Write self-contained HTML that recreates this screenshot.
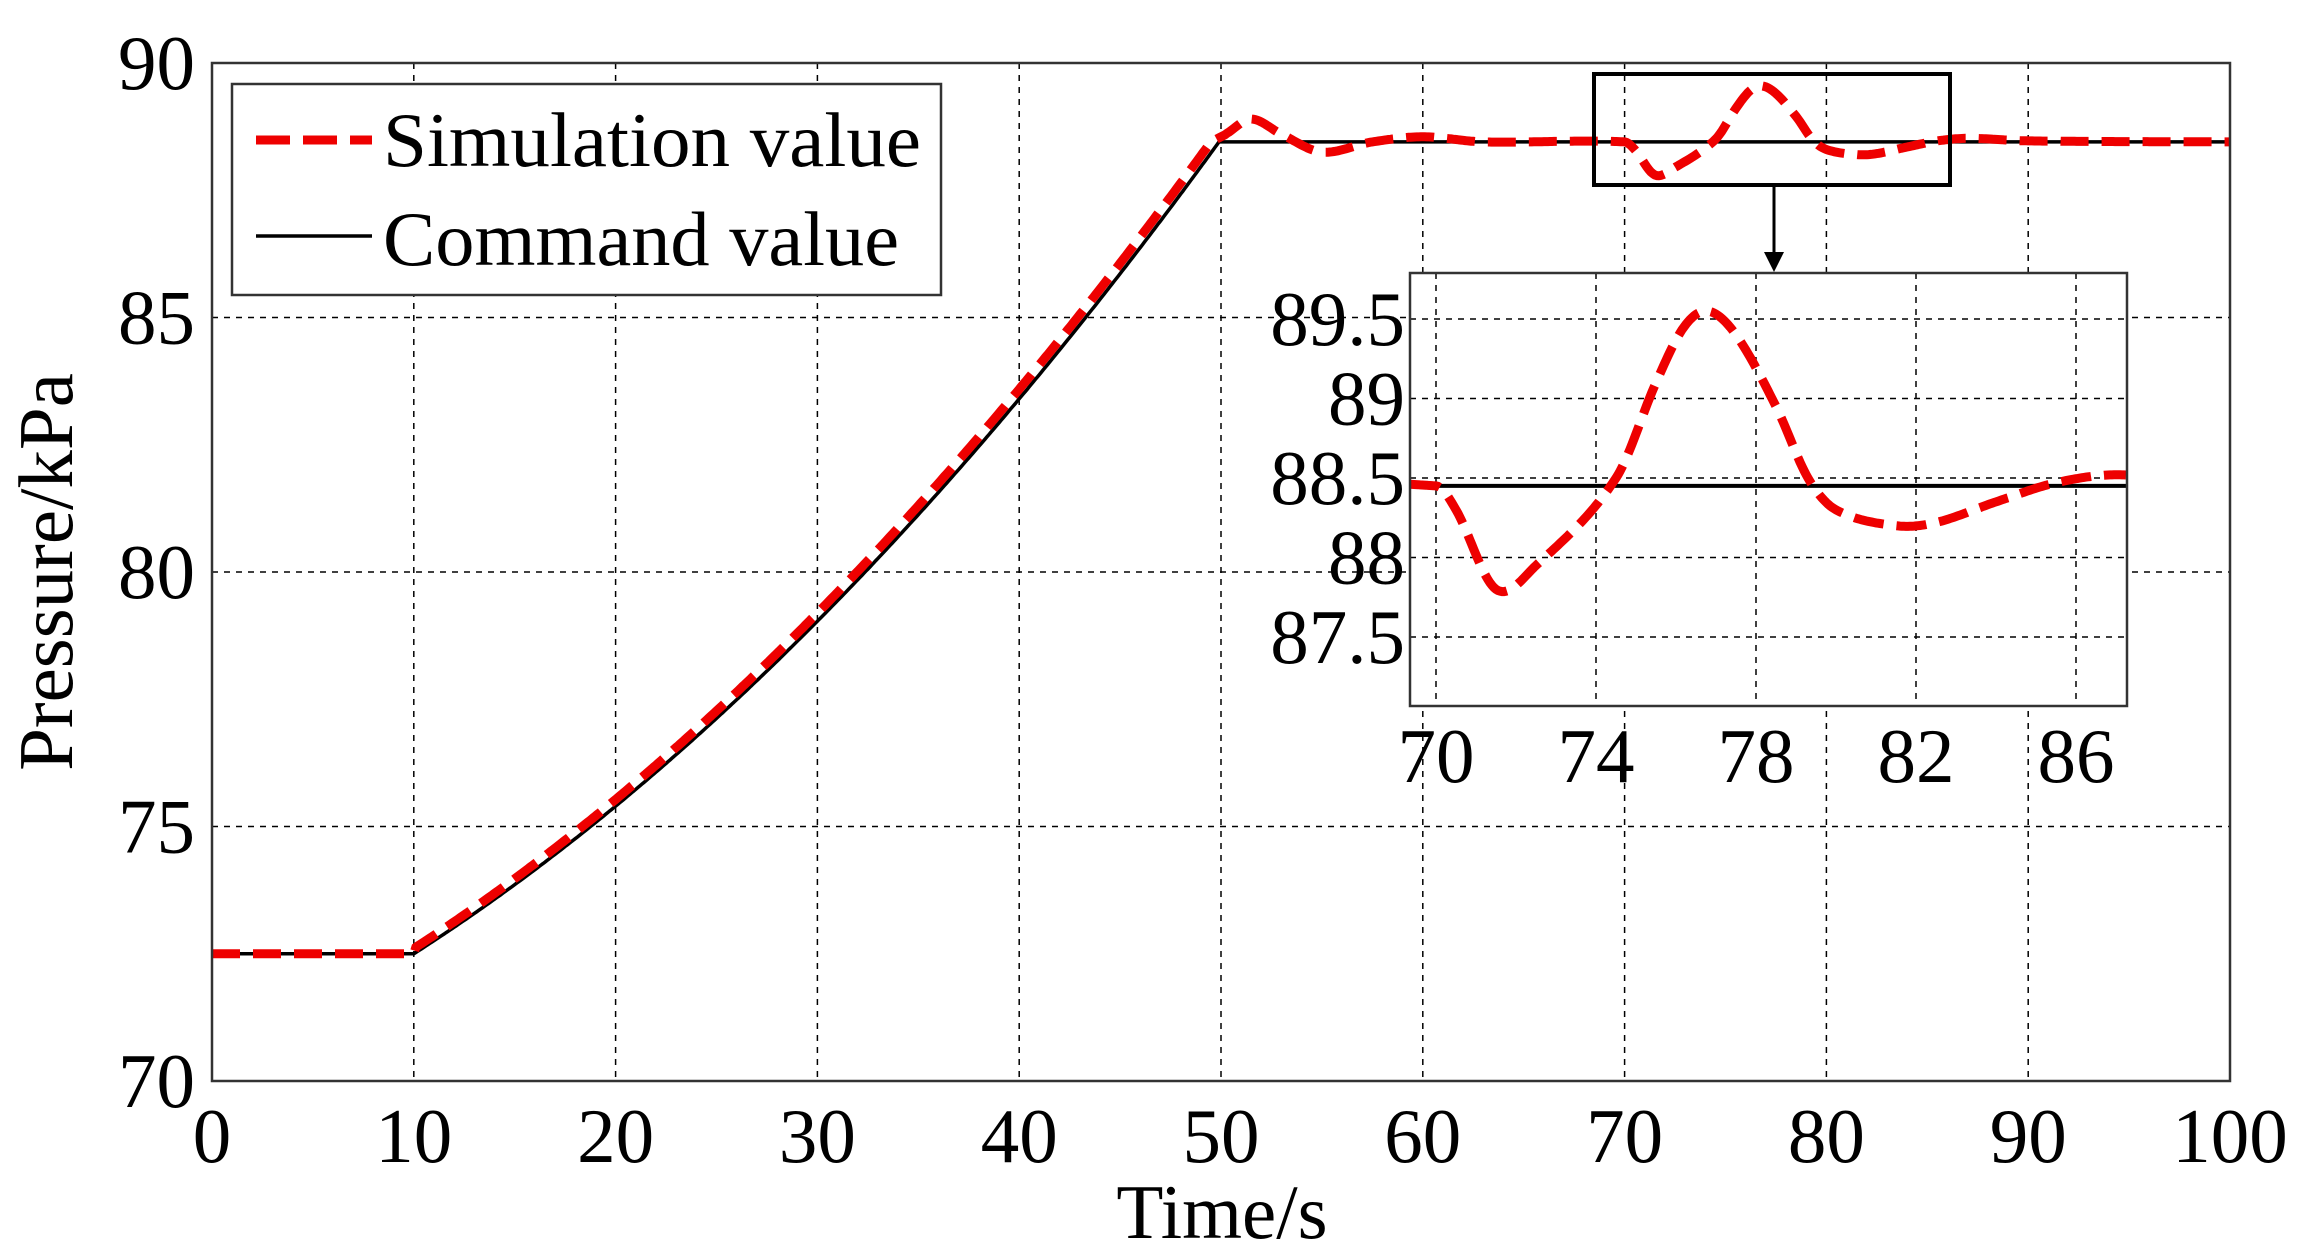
<!DOCTYPE html>
<html><head><meta charset="utf-8"><style>
html,body{margin:0;padding:0;background:#fff;}
svg{display:block;}
</style></head><body>
<svg id="s" width="2307" height="1260" viewBox="0 0 2307 1260" xmlns="http://www.w3.org/2000/svg" font-family="'Liberation Serif', 'DejaVu Serif', serif">
<rect width="2307" height="1260" fill="#fff"/>
<g id="grid" stroke="#000" stroke-width="1.5" stroke-dasharray="6,6"></g>
<g id="main"></g>
<rect x="212" y="63" width="2018" height="1018" fill="none" stroke="#333" stroke-width="2.5"/>
<g id="ylab" font-size="77" text-anchor="end" font-family="'Liberation Serif', serif"></g>
<g id="xlab" font-size="77" text-anchor="middle" font-family="'Liberation Serif', serif"></g>
<text x="1222" y="1238" font-size="77" text-anchor="middle" font-family="'Liberation Serif', serif">Time/s</text>
<text transform="translate(72,572) rotate(-90)" font-size="77" text-anchor="middle" font-family="'Liberation Serif', serif">Pressure/kPa</text>
<!-- legend -->
<rect x="232" y="84" width="709" height="211" fill="#fff" stroke="#333" stroke-width="2.5"/>
<line x1="256" y1="140" x2="372" y2="140" stroke="#e00" stroke-width="9" stroke-dasharray="34,13"/>
<line x1="256" y1="236" x2="372" y2="236" stroke="#000" stroke-width="3.5"/>
<text x="383" y="166" font-size="77" textLength="538" lengthAdjust="spacingAndGlyphs" font-family="'Liberation Serif', serif">Simulation value</text>
<text x="383" y="265" font-size="77" textLength="516" lengthAdjust="spacingAndGlyphs" font-family="'Liberation Serif', serif">Command value</text>
<!-- zoom box -->
<rect x="1594" y="74" width="356" height="111" fill="none" stroke="#000" stroke-width="4"/>
<line x1="1774" y1="185" x2="1774" y2="255" stroke="#000" stroke-width="3"/>
<polygon points="1764,252 1784,252 1774,272" fill="#000"/>
<!-- inset -->
<rect x="1410" y="273" width="717" height="433" fill="#fff"/>
<g id="igrid" stroke="#000" stroke-width="1.5" stroke-dasharray="6,6"></g>
<g id="inset"></g>
<rect x="1410" y="273" width="717" height="433" fill="none" stroke="#333" stroke-width="2.5"/>
<g id="iylab" font-size="77" text-anchor="end" font-family="'Liberation Serif', serif"></g>
<g id="ixlab" font-size="77" text-anchor="middle" font-family="'Liberation Serif', serif"></g>
</svg>
<script>
var NS="http://www.w3.org/2000/svg";
function el(p,tag,a,txt){var e=document.createElementNS(NS,tag);for(var k in a)e.setAttribute(k,a[k]);if(txt!=null)e.textContent=txt;document.getElementById(p).appendChild(e);return e;}
function X(t){return 212+t*20.18;}
function Y(p){return 1081-(p-70)*50.9;}
function IX(t){return 1436+(t-70)*40.0;}
function IY(p){return 478-(p-88.5)*159;}
for(var t=10;t<100;t+=10)el("grid","line",{x1:X(t),y1:63,x2:X(t),y2:1081});
for(var p=75;p<90;p+=5)el("grid","line",{x1:212,y1:Y(p),x2:2230,y2:Y(p)});
for(var p=70;p<=90;p+=5)el("ylab","text",{x:195,y:Y(p)+26},String(p));
for(var t=0;t<=100;t+=10)el("xlab","text",{x:X(t),y:1162},String(t));
[70,74,78,82,86].forEach(function(t){el("igrid","line",{x1:IX(t),y1:273,x2:IX(t),y2:706});el("ixlab","text",{x:IX(t),y:782},String(t));});
[87.5,88,88.5,89,89.5].forEach(function(p){el("igrid","line",{x1:1410,y1:IY(p),x2:2127,y2:IY(p)});el("iylab","text",{x:1405,y:IY(p)+26},String(p));});
function cmd(t){if(t<=10)return 72.5;if(t>=50)return 88.45;var s=t-10;return 72.5+0.2533*s+0.00367*s*s;}
var kp=[[50.3,88.62],[51.5,88.9],[53,88.6],[55,88.25],[57.5,88.45],[60,88.55],[63,88.45],[70,88.45],[70.5,88.3],[71.5,87.8],[72.5,87.95],[74.5,88.5],[75.5,89.1],[76.2,89.45],[76.8,89.55],[77.5,89.4],[78.5,88.95],[79.3,88.5],[80,88.3],[81.5,88.2],[82.5,88.22],[84,88.35],[85.5,88.47],[87,88.52],[90,88.47],[100,88.45]];
function cr(t){for(var i=0;i<kp.length-1;i++){if(t<=kp[i+1][0]){var p0=kp[Math.max(i-1,0)],p1=kp[i],p2=kp[i+1],p3=kp[Math.min(i+2,kp.length-1)];var u=(t-p1[0])/(p2[0]-p1[0]);var m1=(p2[1]-p0[1])/(p2[0]-p0[0]||1)*(p2[0]-p1[0]);var m2=(p3[1]-p1[1])/(p3[0]-p1[0]||1)*(p2[0]-p1[0]);var h00=2*u*u*u-3*u*u+1,h10=u*u*u-2*u*u+u,h01=-2*u*u*u+3*u*u,h11=u*u*u-u*u;return h00*p1[1]+h10*m1+h01*p2[1]+h11*m2;}}return 88.45;}
function sim(t){if(t<=50.3){var v=cmd(Math.min(t+0.4,50));return t<10?72.5:v+(t>49.5?(t-49.5)*0.2:0);}return cr(t);}
function path(f,fx,fy,a,b,st){var d="";for(var t=a;t<=b+1e-9;t+=st){d+=(d?"L":"M")+fx(t).toFixed(1)+","+fy(f(t)).toFixed(1);}return d;}
el("main","path",{d:path(cmd,X,Y,0,100,0.1),fill:"none",stroke:"#000","stroke-width":3.5});
el("main","path",{d:path(sim,X,Y,0,100,0.1),fill:"none",stroke:"#e00","stroke-width":9,"stroke-dasharray":"28,13"});
el("inset","path",{d:path(cmd,IX,IY,69.35,87.25,0.05),fill:"none",stroke:"#000","stroke-width":4});
el("inset","path",{d:path(sim,IX,IY,69.35,87.25,0.05),fill:"none",stroke:"#e00","stroke-width":9,"stroke-dasharray":"30,13"});
</script>
</body></html>
